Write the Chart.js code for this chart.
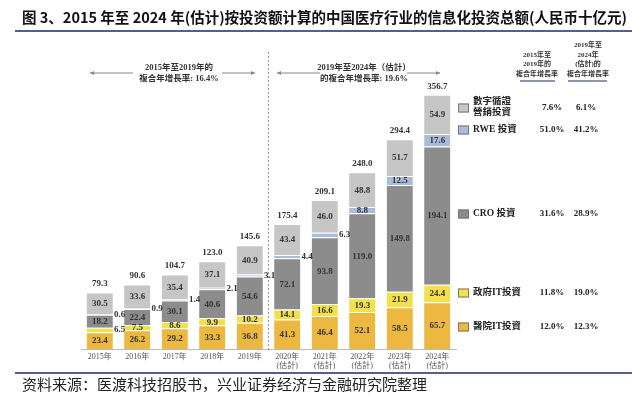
<!DOCTYPE html>
<html>
<head>
<meta charset="utf-8">
<script src="https://cdn.jsdelivr.net/npm/chart.js@4.4.1/dist/chart.umd.min.js"></script>
<style>
html, body { margin: 0; padding: 0; background: #fff; }
</style>
</head>
<body>
<canvas id="myChart" width="643" height="399"></canvas>
<script>
//years on the x axis, the last five are estimates
var years = ['2015年', '2016年', '2017年', '2018年', '2019年', '2020年', '2021年', '2022年', '2023年', '2024年'];
var estimated = [false, false, false, false, false, true, true, true, true, true];
//series values (RMB bn), bottom to top
var hospitalIT = [23.4, 26.2, 29.2, 33.3, 36.8, 41.3, 46.4, 52.1, 58.5, 65.7];
var govIT = [6.5, 7.5, 8.6, 9.9, 10.2, 14.1, 16.6, 19.3, 21.9, 24.4];
var cro = [18.2, 22.4, 30.1, 40.6, 54.6, 72.1, 93.8, 119.0, 149.8, 194.1];
var rwe = [0.6, 0.9, 1.4, 2.1, 3.1, 4.4, 6.3, 8.8, 12.5, 17.6];
var marketing = [30.5, 33.6, 35.4, 37.1, 40.9, 43.4, 46.0, 48.8, 51.7, 54.9];
var totals = [79.3, 90.6, 104.7, 123.0, 145.6, 175.4, 209.1, 248.0, 294.4, 356.7];
//legend names and growth rates, top to bottom as in the legend
var legendNames = [['數字循證', '營銷投資'], ['RWE 投資'], ['CRO 投資'], ['政府IT投資'], ['醫院IT投資']];
var cagr1519 = ['7.6%', '51.0%', '31.6%', '11.8%', '12.0%'];
var cagr1924 = ['6.1%', '41.2%', '28.9%', '19.0%', '12.3%'];
var cagrTotal1519 = '16.4%';
var cagrTotal1924 = '19.6%';

var colors = {
    hospital: '#ECB83F',
    gov: '#F3E04A',
    cro: '#8C8C8C',
    rwe: '#A9BCDC',
    marketing: '#C6C6C6'
};
var legendColors = [colors.marketing, colors.rwe, colors.cro, colors.gov, colors.hospital];
var legendY = [108, 130, 214, 293, 327];

var serif = '"Liberation Serif", "Noto Sans CJK SC"';
var cjk = '"Noto Sans CJK SC", "Liberation Serif"';

var labels = years.map(function (y, i) { return estimated[i] ? [y, '(估計)'] : y; });

function arrowLine(c, x1, x2, y) {
    //line from x1 to x2 with a head at x2
    c.beginPath();
    c.moveTo(x1, y);
    c.lineTo(x2, y);
    c.stroke();
    var d = x2 > x1 ? -1 : 1;
    c.beginPath();
    c.moveTo(x2, y);
    c.lineTo(x2 + d * 4, y - 2);
    c.lineTo(x2 + d * 4, y + 2);
    c.closePath();
    c.fill();
}

var extras = {
    id: 'extras',
    afterDatasetsDraw: function (chart) {
        var c = chart.ctx;
        c.save();
        c.font = 'bold 9px ' + serif;
        c.fillStyle = '#333';
        c.textBaseline = 'middle';
        chart.data.datasets.forEach(function (ds, i) {
            var meta = chart.getDatasetMeta(i);
            meta.data.forEach(function (bar, j) {
                var h = Math.abs(bar.base - bar.y);
                var txt = ds.data[j].toFixed(1);
                var yMid = (bar.y + bar.base) / 2;
                if (h < 5) {
                    //too thin, put the value beside the bar
                    c.textAlign = 'left';
                    c.fillText(txt, bar.x + bar.width / 2 + 1, yMid);
                } else {
                    c.textAlign = 'center';
                    c.fillText(txt, bar.x, yMid + 0.5);
                }
            });
        });
        //totals on top
        var topMeta = chart.getDatasetMeta(chart.data.datasets.length - 1);
        c.textAlign = 'center';
        c.textBaseline = 'bottom';
        topMeta.data.forEach(function (bar, j) {
            c.fillText(totals[j].toFixed(1), bar.x, bar.y - 4);
        });
        c.restore();
    },
    afterDraw: function (chart) {
        var c = chart.ctx;
        var area = chart.chartArea;
        var xs = chart.scales.x;
        c.save();

        //title and source
        c.fillStyle = '#111';
        c.textAlign = 'left';
        c.textBaseline = 'middle';
        c.font = 'bold 14.5px ' + cjk;
        c.fillText('图 3、2015 年至 2024 年(估计)按投资额计算的中国医疗行业的信息化投资总额(人民币十亿元)', 22, 17);
        c.font = '15px ' + cjk;
        c.fillStyle = '#222';
        c.fillText('资料来源：医渡科技招股书，兴业证券经济与金融研究院整理', 22, 384);
        c.strokeStyle = '#1F2A6B';
        c.lineWidth = 1.5;
        c.beginPath();
        c.moveTo(15, 31); c.lineTo(632, 31);
        c.moveTo(15, 373); c.lineTo(632, 373);
        c.stroke();

        //dashed divider between actual and estimate
        var xDiv = (xs.getPixelForValue(4) + xs.getPixelForValue(5)) / 2;
        c.strokeStyle = '#999';
        c.lineWidth = 1;
        c.setLineDash([2, 2]);
        c.beginPath();
        c.moveTo(xDiv, 52); c.lineTo(xDiv, area.bottom + 2);
        c.stroke();
        c.setLineDash([]);

        //cagr arrows
        c.strokeStyle = '#888';
        c.fillStyle = '#888';
        c.lineWidth = 1;
        arrowLine(c, 133, 90, 73);
        arrowLine(c, 222, 255, 73);
        arrowLine(c, 320, 277, 73);
        arrowLine(c, 407, 440, 73);
        c.fillStyle = '#333';
        c.textAlign = 'center';
        c.font = 'bold 8.5px ' + serif;
        c.fillText('2015年至2019年的', 179, 68);
        c.fillText('複合年增長率: ' + cagrTotal1519, 179, 79);
        c.fillText('2019年至2024年（估計）', 364, 68);
        c.fillText('的複合年增長率: ' + cagrTotal1924, 364, 79);

        //column headers
        c.font = 'bold 7px ' + serif;
        var h1 = ['2015年至', '2019年的', '複合年增長率'];
        var h2 = ['2019年至', '2024年', '(估計)的', '複合年增長率'];
        h1.forEach(function (t, k) { c.fillText(t, 537, 55 + k * 9.5); });
        h2.forEach(function (t, k) { c.fillText(t, 588, 45.5 + k * 9.5); });
        c.strokeStyle = '#1F2A6B';
        c.lineWidth = 1.2;
        c.beginPath();
        c.moveTo(520, 81); c.lineTo(555, 81);
        c.moveTo(568, 81); c.lineTo(607, 81);
        c.stroke();

        //legend with growth rates
        legendNames.forEach(function (name, k) {
            var y = legendY[k];
            c.fillStyle = legendColors[k];
            c.fillRect(458, y - 4.5, 11, 9);
            c.strokeStyle = '#777';
            c.lineWidth = 1;
            c.strokeRect(458.5, y - 4, 10, 8);
            c.fillStyle = '#222';
            c.textAlign = 'left';
            c.font = 'bold 9.5px ' + serif;
            if (name.length === 2) {
                c.fillText(name[0], 473, y - 6);
                c.fillText(name[1], 473, y + 5);
            } else {
                c.fillText(name[0], 473, y);
            }
            c.textAlign = 'center';
            c.font = 'bold 9px ' + serif;
            c.fillText(cagr1519[k], 552, y);
            c.fillText(cagr1924[k], 586, y);
        });
        c.restore();
    }
};

var ctx = document.getElementById('myChart');
var myChart = new Chart(ctx, {
    type: 'bar',
    data: {
        labels: labels,
        datasets: [
            { label: '醫院IT投資', data: hospitalIT, backgroundColor: colors.hospital },
            { label: '政府IT投資', data: govIT, backgroundColor: colors.gov },
            { label: 'CRO 投資', data: cro, backgroundColor: colors.cro },
            { label: 'RWE 投資', data: rwe, backgroundColor: colors.rwe },
            { label: '數字循證營銷投資', data: marketing, backgroundColor: colors.marketing }
        ].map(function (d) {
            d.borderColor = '#fff';
            d.borderWidth = { top: 1, bottom: 0, left: 0, right: 0 };
            d.borderSkipped = false;
            d.categoryPercentage = 1;
            d.barPercentage = 0.7;
            return d;
        })
    },
    options: {
        responsive: false,
        animation: false,
        layout: { padding: { left: 81, right: 187, top: 64, bottom: 20 } },
        plugins: { legend: { display: false }, tooltip: { enabled: false } },
        scales: {
            x: {
                stacked: true,
                grid: { display: false, drawTicks: false, tickLength: 0 },
                border: { color: '#bbb' },
                ticks: {
                    font: { family: serif, size: 8 },
                    color: '#555',
                    padding: 3,
                    maxRotation: 0,
                    autoSkip: false
                },
                afterFit: function (s) { s.height = 30; }
            },
            y: { stacked: true, display: false, min: 0, max: 400 }
        }
    },
    plugins: [extras]
});
</script>
</body>
</html>
